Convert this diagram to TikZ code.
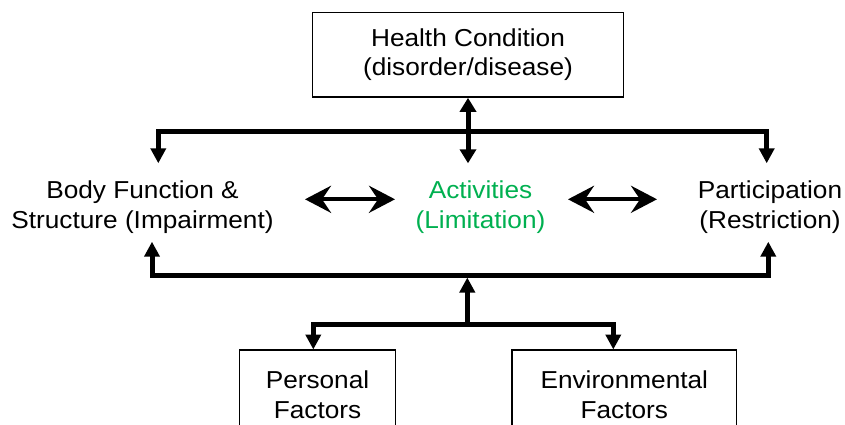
\documentclass[tikz,border=0pt]{standalone}
\usepackage{fontspec}
\setmainfont{Liberation Sans}[FakeStretch=1.07]
\usetikzlibrary{arrows.meta,calc}
\definecolor{actgreen}{RGB}{0,176,80}
\tikzset{
  lbl/.style={align=center,inner sep=0pt,font=\fontsize{24.5}{30}\selectfont},
  boxnode/.style={draw,line width=1.5pt,align=center,inner sep=0pt,font=\fontsize{24.5}{30}\selectfont},
  bar/.style={line width=5pt,line join=miter},
  tri/.style={-{Triangle[length=15pt,width=15pt]}},
  tritwo/.style={{Triangle[length=14pt,width=16pt]}-{Triangle[length=14pt,width=16pt]}},
  hbar/.style={line width=4pt,{Stealth[length=26pt,width=27pt,inset=9pt]}-{Stealth[length=26pt,width=27pt,inset=9pt]}}
}
\begin{document}
\begin{tikzpicture}[x=1pt,y=-1pt]
\useasboundingbox (0,0) rectangle (845,424);
\clip (0,0) rectangle (845,424);
% nodes
\node[boxnode,minimum width=310.6pt,minimum height=84.7pt,font=\fontsize{24.5}{28.5}\selectfont] (hc) at (468,54.7) {Health Condition\\(disorder/disease)};
\node[lbl] (bf) at (142.5,207.5) {Body Function \&\\Structure (Impairment)};
\node[lbl,text=actgreen] (act) at (480.5,207.5) {Activities\\(Limitation)};
\node[lbl] (par) at (770,207.5) {Participation\\(Restriction)};
\node[boxnode,minimum width=156.4pt,minimum height=90pt] (pf) at (317.5,395) {Personal\\Factors};
\node[boxnode,minimum width=224.7pt,minimum height=90pt] (ef) at (624.3,395) {Environmental\\Factors};
% junction coordinates
\coordinate (jTop) at (468,131.5);
\coordinate (bfIn) at (158.3,163.3);
\coordinate (parIn) at (766.7,163.3);
\coordinate (actIn) at (468,163.3);
\coordinate (jBot) at (467.3,275);
\coordinate (jBotIn) at (467.3,277.5);
\coordinate (bfOut) at (152,241.7);
\coordinate (parOut) at (768.3,241.7);
\coordinate (jPF) at (467.3,324.3);
\coordinate (pfIn) at (313.3,349.5);
\coordinate (efIn) at (613.3,349.5);
\coordinate (hA) at (305,199.3);
\coordinate (hB) at (395,199.3);
\coordinate (hC) at (568,199.3);
\coordinate (hD) at (657,199.3);
% connectors
\draw[bar,tri] (jTop) -| (bfIn);
\draw[bar,tri] (jTop) -| (parIn);
\draw[bar,tritwo] (hc.south) -- (actIn);
\draw[bar,tri] (jBot) -| (bfOut);
\draw[bar,tri] (jBot) -| (parOut);
\draw[bar,tri] (jPF) -- (jBotIn);
\draw[bar,tri] (jPF) -| (pfIn);
\draw[bar,tri] (jPF) -| (efIn);
\draw[hbar] (hA) -- (hB);
\draw[hbar] (hC) -- (hD);
\end{tikzpicture}
\end{document}
